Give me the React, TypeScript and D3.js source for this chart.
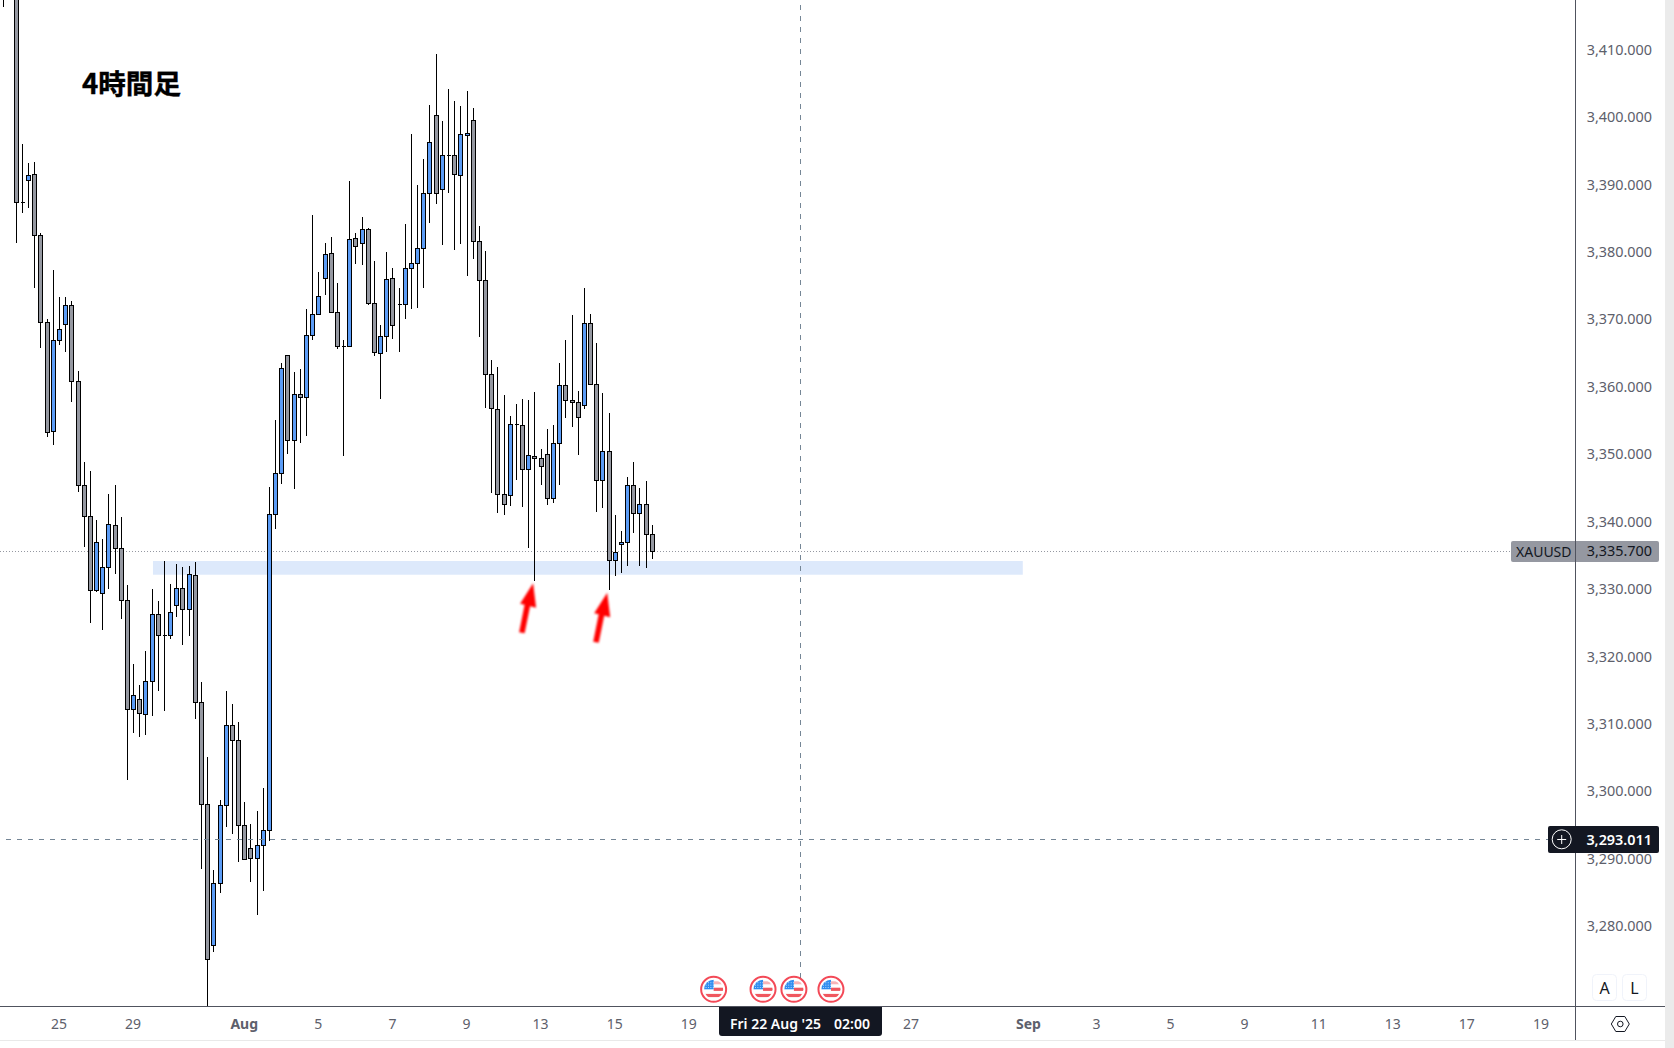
import React from "react";
import * as d3 from "d3";

const W = 1674;
const H = 1048;

const firstIndex = -2;
const opens = [
  3425, 3428,
  3425, 3387.36, 3390.56, 3391.51, 3382.47, 3369.59, 3353.44, 3366.92, 3369.29, 3372.10,
  3360.84, 3345.44, 3340.84, 3329.88, 3329.44, 3333.29, 3339.51, 3336.10, 3328.40, 3312.25,
  3313.73, 3311.51, 3316.40, 3326.33, 3323.21, 3323.21, 3327.66, 3330.18, 3327.07, 3332.10,
  3313.29, 3298.18, 3277.29, 3286.47, 3298.03, 3309.88, 3307.66, 3295.07, 3291.66, 3290.18,
  3292.10, 3294.33, 3341.14, 3347.21, 3364.70, 3352.10, 3358.92, 3358.41, 3367.66, 3370.77,
  3376.10, 3379.81, 3371.07, 3366.03, 3366.03, 3382.03, 3381.29, 3383.36, 3372.40, 3364.99,
  3367.51, 3376.10, 3372.25, 3372.25, 3377.59, 3378.33, 3380.55, 3388.70, 3400.25, 3389.29,
  3394.33, 3394.33, 3391.36, 3397.29, 3399.51, 3381.59, 3375.81, 3361.88, 3356.70, 3344.10,
  3343.96, 3354.47, 3354.33, 3347.81, 3349.73, 3349.44, 3350.03, 3343.51, 3351.66, 3360.25,
  3358.03, 3357.73, 3357.29, 3369.44, 3360.40, 3346.18, 3350.47, 3334.33, 3336.70, 3336.99,
  3345.44, 3341.29, 3342.62, 3338.18,
];
const closes = [
  3422, 3425,
  3387.36, 3387.36, 3391.36, 3382.47, 3369.59, 3353.29, 3366.92, 3368.55, 3372.10, 3360.84,
  3345.44, 3340.84, 3329.88, 3336.99, 3333.29, 3339.66, 3336.10, 3328.40, 3312.25, 3314.33,
  3311.66, 3316.40, 3326.33, 3323.21, 3323.21, 3326.62, 3330.18, 3327.07, 3332.25, 3313.29,
  3298.18, 3275.21, 3286.47, 3298.03, 3309.88, 3307.66, 3295.07, 3290.03, 3290.18, 3292.10,
  3294.33, 3341.14, 3347.21, 3362.77, 3352.10, 3358.92, 3358.41, 3367.66, 3370.77, 3373.44,
  3379.66, 3371.07, 3366.03, 3366.03, 3381.88, 3380.84, 3383.36, 3372.40, 3365.14, 3367.51,
  3375.96, 3369.14, 3372.25, 3377.59, 3378.33, 3380.55, 3388.70, 3396.25, 3388.70, 3394.33,
  3394.33, 3391.51, 3397.44, 3397.59, 3381.59, 3375.81, 3361.88, 3356.84, 3344.10, 3342.62,
  3354.47, 3354.47, 3347.81, 3349.88, 3349.44, 3348.25, 3343.51, 3351.66, 3360.25, 3358.03,
  3357.73, 3355.51, 3369.44, 3360.40, 3346.18, 3350.47, 3334.33, 3335.51, 3336.99, 3345.44,
  3341.29, 3342.62, 3338.18, 3335.70,
];
const highs = [
  3430, 3432,
  3428, 3396.0, 3393.14, 3393.29, 3382.77, 3370.03, 3377.29, 3373.29, 3373.29, 3372.70,
  3362.33, 3348.84, 3347.51, 3340.3, 3337.48, 3344.10, 3345.44, 3340.70, 3330.62, 3318.96,
  3315.81, 3320.84, 3330.03, 3328.25, 3334.18, 3330.77, 3333.73, 3333.29, 3333.44, 3334.03,
  3316.25, 3305.14, 3288.40, 3298.77, 3314.92, 3312.99, 3310.33, 3298.47, 3295.21, 3297.14,
  3300.55, 3345.19, 3355.11, 3363.60, 3364.70, 3362.22, 3362.62, 3371.51, 3385.44, 3376.99,
  3381.29, 3382.18, 3375.36, 3366.92, 3390.47, 3382.77, 3385.14, 3383.51, 3378.62, 3369.14,
  3379.96, 3377.59, 3374.62, 3384.10, 3397.44, 3389.88, 3393.73, 3401.73, 3409.29, 3399.36,
  3404.10, 3402.33, 3401.59, 3403.81, 3401.29, 3383.81, 3380.10, 3363.96, 3362.92, 3358.77,
  3355.66, 3357.44, 3358.18, 3358.03, 3359.21, 3350.77, 3353.73, 3354.33, 3363.51, 3366.92,
  3370.62, 3359.36, 3374.62, 3370.77, 3366.47, 3359.07, 3356.10, 3340.99, 3338.62, 3346.62,
  3348.84, 3344.99, 3346.03, 3339.51,
];
const lows = [
  3416.34, 3422,
  3381.38, 3385.73, 3386.56, 3374.71, 3365.82, 3352.64, 3351.45, 3366.27, 3365.23, 3357.82,
  3344.49, 3336.34, 3325.08, 3329.67, 3324.04, 3330.03, 3332.34, 3325.67, 3301.82, 3308.79,
  3308.19, 3308.49, 3311.30, 3315.01, 3312.04, 3322.71, 3325.97, 3321.82, 3323.16, 3310.86,
  3288.64, 3265, 3276.34, 3285.08, 3294.86, 3293.82, 3289.67, 3289.95, 3286.71, 3281.82,
  3285.38, 3292.79, 3338.92, 3345.67, 3350.12, 3344.93, 3351.75, 3352.79, 3367.01, 3370.77,
  3373.63, 3371.07, 3365.67, 3349.82, 3366.03, 3378.27, 3378.12, 3372.19, 3364.64, 3358.27,
  3365.23, 3367.16, 3365.23, 3370.12, 3371.60, 3371.75, 3374.71, 3384.34, 3387.16, 3381.08,
  3388.79, 3380.34, 3381.23, 3376.49, 3378.92, 3367.45, 3356.93, 3344.34, 3341.38, 3341.08,
  3342.41, 3346.27, 3342.27, 3336.19, 3331.21, 3345.53, 3342.56, 3342.77, 3345.53, 3355.45,
  3354.12, 3349.97, 3356.70, 3360.40, 3341.44, 3342.12, 3329.88, 3331.96, 3332.40, 3333.44,
  3338.33, 3333.53, 3333.14, 3334.47,
];

const priceTicks = [3280, 3290, 3300, 3310, 3320, 3330, 3340, 3350, 3360, 3370, 3380, 3390, 3400, 3410];
const timeTickIndex = [7, 19, 37, 49, 61, 73, 85, 97, 109, 145, 164, 175, 187, 199, 211, 223, 235, 247];
const timeTickLabel = ["25", "29", "Aug", "5", "7", "9", "13", "15", "19", "27", "Sep", "3", "5", "9", "11", "13", "17", "19"];
const boldTimeLabels = ["Aug", "Sep"];
const newsIndex = [113, 121, 126, 132];
const arrowIndex = [83.7, 95.7];
const arrowPrice = [3330.92, 3329.53];

const zone = { startIndex: 22.14, endIndex: 163, top: 3334.22, bottom: 3332.19 };
const lastPrice = 3335.7;
const crossPrice = 3293.011;
const crossIndex = 127;

const x = d3.scaleLinear().domain([0, 1]).range([16.26, 22.435]);
const y = d3.scaleLinear().domain([3340, 3410]).range([522, 49.5]);
const tickY = d3.scaleLinear().domain([3410, 3280]).range([54.8, 931.2]);
const px = (i: number) => Math.floor(x(i)) + 0.5;
const py = (v: number) => Math.floor(y(v)) + 0.5;
const fmt = d3.format(",.3f");

const BLUE = "#5b9cf6";
const GREY = "#9598a1";
const AXIS = "#50535e";
const DARK = "#131722";
const TEXT = "#5d606b";
const FONT = "'Noto Sans', sans-serif";

const candles = d3.range(opens.length).map((k) => ({
  i: k + firstIndex,
  o: opens[k],
  h: highs[k],
  l: lows[k],
  c: closes[k],
}));

function bodyPath(cx: number, a: number, b: number) {
  const p = d3.path();
  p.rect(cx - 2, Math.min(a, b), 4, Math.abs(b - a));
  return p.toString();
}

function Flag({ cx, cy, id }: { cx: number; cy: number; id: string }) {
  const rows = d3.range(-7, 0, 2.4);
  const cols = d3.range(-8, 0, 2.4);
  return (
    <g transform={`translate(${cx},${cy})`}>
      <circle r={12.5} fill="#fff" stroke="#f23645" strokeWidth={2} opacity={0.9} />
      <clipPath id={id}>
        <circle r={9.5} />
      </clipPath>
      <g clipPath={`url(#${id})`}>
        <rect x={-10} y={-10} width={20} height={20} fill="#fff" />
        <rect x={0} y={-1.6} width={10} height={3.2} fill="#f0575f" />
        <rect x={-10} y={4.6} width={20} height={3.2} fill="#f0575f" />
        <rect x={0} y={-8} width={10} height={3} fill="#f7b4b7" />
        <rect x={-10} y={-10} width={10} height={10} fill="#2f8df0" />
        {rows.map((ry) =>
          cols.map((rx) => <rect key={`${rx}-${ry}`} x={rx} y={ry} width={0.9} height={0.9} fill="#d5e8fb" />)
        )}
      </g>
    </g>
  );
}

export default function App() {
  const plotRight = 1575;
  const axisY = 1006;
  const stripY = 1040;
  const arrowD = "M0,0 L3,24.5 L-3,23 L-8.5,50 L-14,49 L-8.5,21.5 L-13,20.5 Z";
  const crossX = px(crossIndex);
  const crossY = y(crossPrice);
  const lastY = py(lastPrice);
  return (
    <div style={{ position: "fixed", left: 0, top: 0, width: W, height: H, background: "#fff" }}>
      <svg width={W} height={H} viewBox={`0 0 ${W} ${H}`} style={{ display: "block" }}>
        <defs>
          <clipPath id="plot">
            <rect x={0} y={0} width={plotRight} height={axisY} />
          </clipPath>
          <filter id="soft" x="-30%" y="-30%" width="160%" height="160%">
            <feGaussianBlur stdDeviation={0.8} />
          </filter>
        </defs>
        <rect width={W} height={H} fill="#fff" />
        <g clipPath="url(#plot)">
          <rect
            x={x(zone.startIndex)}
            y={y(zone.top)}
            width={x(zone.endIndex) - x(zone.startIndex)}
            height={y(zone.bottom) - y(zone.top)}
            fill="#dde9fb"
          />
          <line x1={0} x2={plotRight} y1={lastY} y2={lastY} stroke={GREY} strokeDasharray="1 2" />
          <g shapeRendering="crispEdges">
            {candles.map((d) => {
              const cx = px(d.i);
              const up = d.c > d.o;
              return (
                <g key={d.i}>
                  <line x1={cx} x2={cx} y1={Math.round(y(d.h))} y2={Math.round(y(d.l))} stroke="#000" />
                  <path
                    d={bodyPath(cx, py(d.o), py(d.c))}
                    fill={up ? BLUE : GREY}
                    stroke="#000"
                    strokeWidth={1}
                  />
                </g>
              );
            })}
          </g>
          <line
            x1={6}
            x2={plotRight}
            y1={Math.floor(crossY) + 0.5}
            y2={Math.floor(crossY) + 0.5}
            stroke="#758696"
            strokeDasharray="5 6"
            shapeRendering="crispEdges"
          />
          <line
            x1={crossX}
            x2={crossX}
            y1={-6}
            y2={axisY}
            stroke="#758696"
            strokeDasharray="5 6"
            shapeRendering="crispEdges"
          />
          {arrowIndex.map((a, k) => (
            <path
              key={k}
              d={arrowD}
              transform={`translate(${x(a)},${y(arrowPrice[k])})`}
              fill="#ff0000"
              filter="url(#soft)"
            />
          ))}
          {newsIndex.map((n, k) => (
            <Flag key={n} cx={x(n) - 0.4} cy={989.3} id={`flag${k}`} />
          ))}
        </g>

        <text
          x={82}
          y={94}
          fontFamily="'Noto Sans CJK JP', sans-serif"
          fontWeight={700}
          fontSize={27.6}
          fill="#000"
          stroke="#000"
          strokeWidth={0.4}
        >
          4時間足
        </text>

        <rect x={1665} y={0} width={9} height={H} fill="#ebebeb" />
        <rect x={0} y={stripY} width={1665} height={1} fill="#e9e9e9" />
        <rect x={plotRight} y={0} width={1} height={stripY} fill={AXIS} />
        <rect x={0} y={axisY} width={1665} height={1} fill={AXIS} />

        {priceTicks.map((t) => (
          <text
            key={t}
            x={1652}
            y={tickY(t)}
            textAnchor="end"
            fontFamily={FONT}
            fontSize={14.4}
            fill={TEXT}
          >
            {fmt(t)}
          </text>
        ))}

        <rect x={1511} y={541} width={148} height={21} rx={2} fill={GREY} />
        <rect x={plotRight} y={541} width={1} height={21} fill={AXIS} />
        <text x={1516} y={557} fontFamily={FONT} fontSize={14} fill={DARK}>
          XAUUSD
        </text>
        <text x={1652} y={556} textAnchor="end" fontFamily={FONT} fontSize={14.4} fill={DARK}>
          {fmt(lastPrice)}
        </text>

        <rect x={1548} y={826} width={111} height={27} rx={2} fill={DARK} />
        <circle cx={1561.7} cy={839.3} r={9.5} fill="none" stroke="#fff" strokeWidth={1} />
        <path d="M1557.2,839.5 h9 M1561.7,835 v9" stroke="#fff" strokeWidth={1} />
        <text x={1652} y={844.5} textAnchor="end" fontFamily={FONT} fontWeight={600} fontSize={14.4} fill="#fff">
          {fmt(crossPrice)}
        </text>

        {timeTickIndex.map((ti, k) => {
          const label = timeTickLabel[k];
          const bold = boldTimeLabels.includes(label);
          return (
            <text
              key={ti}
              x={x(ti) - 0.5}
              y={1028.5}
              textAnchor="middle"
              fontFamily={FONT}
              fontWeight={bold ? 700 : 400}
              fontSize={14}
              fill={TEXT}
            >
              {label}
            </text>
          );
        })}

        <path d="M719,1007 H882 V1033 a3,3 0 0 1 -3,3 H722 a3,3 0 0 1 -3,-3 Z" fill={DARK} />
        <text x={730} y={1028.5} fontFamily={FONT} fontWeight={600} fontSize={14} fill="#fff">
          Fri 22 Aug '25
        </text>
        <text x={834} y={1028.5} fontFamily={FONT} fontWeight={600} fontSize={14} fill="#fff">
          02:00
        </text>

        <rect x={1592.5} y={974.5} width={24} height={26} rx={4} fill="#fff" stroke="#f0f3fa" />
        <rect x={1622.5} y={974.5} width={24} height={26} rx={4} fill="#fff" stroke="#f0f3fa" />
        <text x={1604.5} y={993.5} textAnchor="middle" fontFamily={FONT} fontSize={16} fill={DARK}>
          A
        </text>
        <text x={1634.5} y={993.5} textAnchor="middle" fontFamily={FONT} fontSize={16} fill={DARK}>
          L
        </text>

        <g transform="translate(1620.3,1024)" fill="none" stroke={DARK} strokeWidth={1}>
          <path d="M-9,0 L-4.5,-7.5 H4.5 L9,0 L4.5,7.5 H-4.5 Z" />
          <circle r={2.8} />
        </g>
      </svg>
    </div>
  );
}
